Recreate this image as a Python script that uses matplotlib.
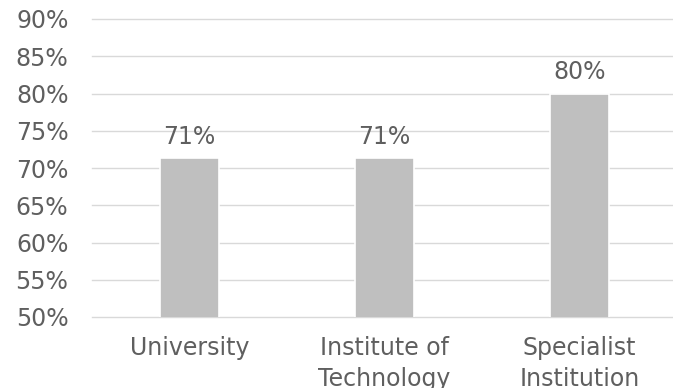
import matplotlib
matplotlib.use('Agg')
import matplotlib.pyplot as plt
from matplotlib.ticker import FuncFormatter

# Data
categories = ['University', 'Institute of\nTechnology', 'Specialist\nInstitution']
values = [71.3, 71.3, 80.0]
labels = ['71%', '71%', '80%']
yticks = [50, 55, 60, 65, 70, 75, 80, 85, 90]

text_color = '#5f5f5f'
plt.rcParams['font.family'] = ['DejaVu Sans']
plt.rcParams['font.size'] = 17

fig = plt.figure(figsize=(6.73, 3.88), dpi=100)
ax = fig.add_axes([92/673, 71/388, 581/673, 298/388])

x = range(len(categories))
bars = ax.bar(x, values, width=0.303, color='#BFBFBF', edgecolor='white',
              linewidth=1.2, zorder=3)
ax.bar_label(bars, labels=labels, padding=7, color=text_color, fontsize=17)

ax.set_ylim(50, 90)
ax.set_xlim(-0.5, 2.479)
ax.set_yticks(yticks)
ax.yaxis.set_major_formatter(FuncFormatter(lambda v, p: f'{v:.0f}%'))
ax.set_xticks(list(x))
ax.set_xticklabels(categories, linespacing=1.33)
ax.grid(axis='y', color='#D9D9D9', linewidth=1.0, zorder=0)
for gl in ax.get_ygridlines():
    gl.set_clip_on(False)
ax.tick_params(axis='both', length=0, colors=text_color, labelsize=17)
ax.tick_params(axis='y', pad=17)
ax.tick_params(axis='x', pad=14)
for s in ax.spines.values():
    s.set_visible(False)

plt.savefig('out.png', dpi=100)
